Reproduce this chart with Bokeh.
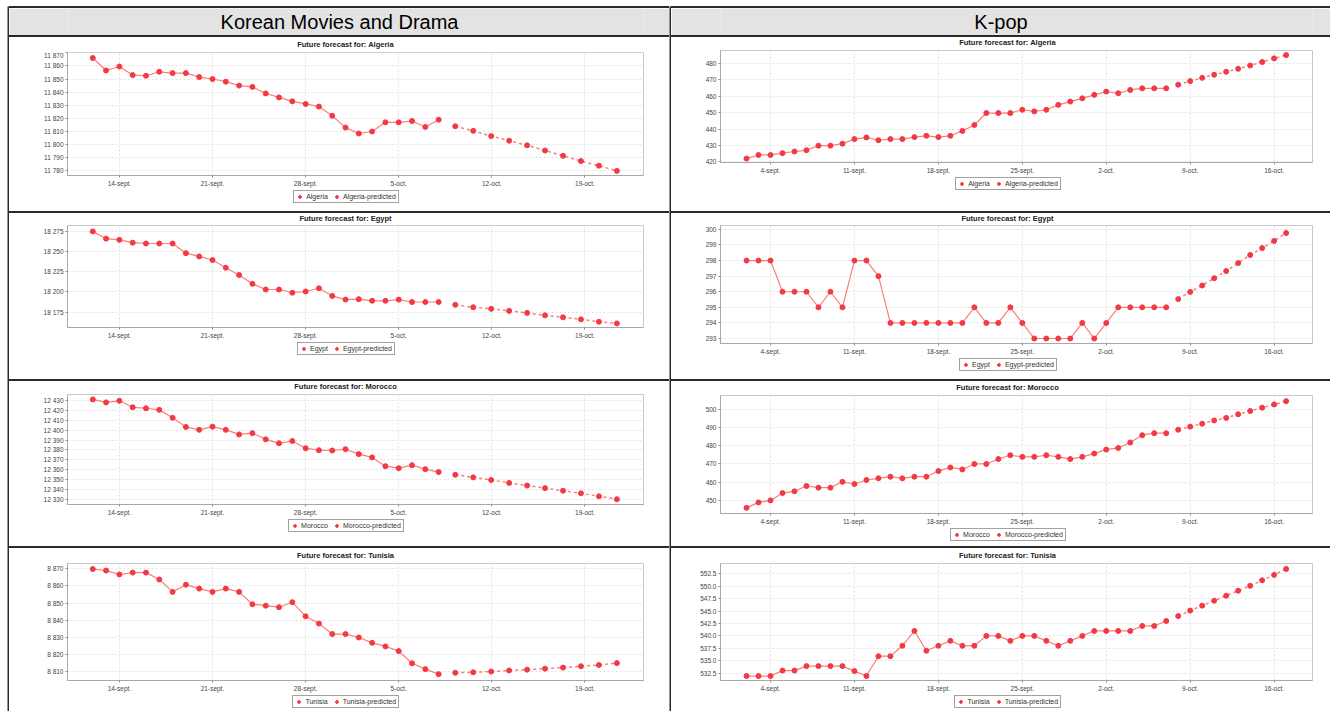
from bokeh.plotting import figure
from bokeh.layouts import row, column
from bokeh.models import FixedTicker, Legend, LegendItem, Range1d, Spacer
from bokeh.core.properties import value
from bokeh.core.validation import silence
from bokeh.core.validation.warnings import MISSING_RENDERERS
from bokeh.embed import file_html
from bokeh.resources import INLINE

silence(MISSING_RENDERERS, True)

# ---------------- data ----------------
col_headers = ["Korean Movies and Drama", "K-pop"]
countries = ["Algeria", "Egypt", "Morocco", "Tunisia"]

# day numbers counted from 1-sept (1-oct = 31)
kmd_days = list(range(12, 39))
kmd_pred_days = [39.25, 40.6, 41.95, 43.3, 44.65, 46.0, 47.35, 48.7, 50.05, 51.4]
kmd_xticks = [14, 21, 28, 35, 42, 49]
kmd_xlabels = ["14-sept.", "21-sept.", "28-sept.", "5-oct.", "12-oct.", "19-oct."]

kpop_days = list(range(2, 38))
kpop_pred_days = list(range(38, 48))
kpop_xticks = [4, 11, 18, 25, 32, 39, 46]
kpop_xlabels = ["4-sept.", "11-sept.", "18-sept.", "25-sept.", "2-oct.", "9-oct.", "16-oct."]

kmd_algeria = [11866, 11856.5, 11859.5, 11853, 11852.5, 11855.5, 11854.5, 11854.5, 11851.5,
               11850, 11848, 11845, 11844, 11839, 11836, 11833, 11831, 11829, 11822, 11813,
               11808.5, 11810, 11817, 11817, 11818, 11813.5, 11819]
kmd_algeria_pred = [11814, 11810.5, 11806.5, 11803, 11799.5, 11795.5, 11791.5, 11787.5, 11784, 11780]
kmd_algeria_ylabels = ["11 780", "11 790", "11 800", "11 810", "11 820", "11 830",
                       "11 840", "11 850", "11 860", "11 870"]

kmd_egypt = [18275, 18266, 18264.5, 18261, 18260, 18260, 18260, 18248, 18244, 18239.5,
             18230, 18221, 18210, 18203, 18203, 18199, 18200.5, 18204.5, 18195, 18190.5,
             18191, 18189, 18189, 18190.5, 18187.5, 18187.5, 18187.5]
kmd_egypt_pred = [18184, 18181, 18179, 18176.5, 18174, 18171, 18168.5, 18166, 18163, 18161]
kmd_egypt_ylabels = ["18 175", "18 200", "18 225", "18 250", "18 275"]

kmd_morocco = [12430.7, 12427.7, 12429.3, 12422.8, 12421.8, 12420.2, 12412.3, 12403.1, 12400.2,
               12403.4, 12400.2, 12395.6, 12396.9, 12390.7, 12386.7, 12389, 12381.8, 12379.8,
               12379.5, 12380.8, 12375.9, 12372.6, 12363.8, 12361.8, 12364.8, 12360.8, 12357.9]
kmd_morocco_pred = [12355.2, 12352.6, 12350, 12347, 12344.4, 12341.8, 12339.2, 12336.6, 12333.6, 12330.7]
kmd_morocco_ylabels = ["12 330", "12 340", "12 350", "12 360", "12 370", "12 380",
                       "12 390", "12 400", "12 410", "12 420", "12 430"]

kmd_tunisia = [8869.8, 8868.9, 8866.6, 8867.7, 8867.7, 8863.7, 8856.5, 8860.7, 8858.4, 8856.5,
               8858.4, 8856.5, 8849.3, 8848.5, 8847.6, 8850.5, 8842.3, 8838.1, 8832.0, 8832.0,
               8830.0, 8826.9, 8824.8, 8822.1, 8815.0, 8811.6, 8808.7]
kmd_tunisia_pred = [8809.5, 8809.8, 8810.2, 8810.8, 8811.3, 8811.9, 8812.5, 8813.3, 8814.0, 8815.1]
kmd_tunisia_ylabels = ["8 810", "8 820", "8 830", "8 840", "8 850", "8 860", "8 870"]

kpop_algeria = [422, 424.2, 424.2, 425.3, 426.3, 427.1, 429.9, 429.9, 431.1, 433.9, 434.9, 433.2,
                433.9, 433.9, 435.1, 435.9, 435.1, 435.9, 438.9, 442.5, 449.8, 449.8, 449.8, 451.8,
                450.8, 451.8, 454.8, 456.8, 458.8, 460.9, 462.9, 461.9, 463.9, 464.9, 464.9, 464.9]
kpop_algeria_pred = [467.1, 469.3, 471.3, 473.2, 475, 476.8, 478.8, 481, 483.2, 485.2]
kpop_algeria_ylabels = ["420", "430", "440", "450", "460", "470", "480"]

kpop_egypt = [298, 298, 298, 296, 296, 296, 295, 296, 295, 298, 298, 297, 294, 294, 294, 294,
              294, 294, 294, 295, 294, 294, 295, 294, 293, 293, 293, 293, 294, 293, 294, 295,
              295, 295, 295, 295]
kpop_egypt_pred = [295.53, 295.99, 296.4, 296.87, 297.33, 297.84, 298.36, 298.8, 299.26, 299.77]
kpop_egypt_ylabels = ["293", "294", "295", "296", "297", "298", "299", "300"]

kpop_morocco = [445.9, 448.9, 450, 454, 455, 457.9, 457, 457, 460.2, 459, 461.2, 462.1, 463,
                462.1, 463, 463, 466.1, 468.1, 467, 470, 470, 472.7, 474.8, 473.9, 473.9, 474.8,
                473.9, 472.7, 473.9, 475.7, 477.9, 478.8, 481.8, 485.8, 486.9, 486.9]
kpop_morocco_pred = [488.8, 490.5, 492.1, 493.9, 495.3, 497.3, 499.1, 500.9, 502.7, 504.5]
kpop_morocco_ylabels = ["450", "460", "470", "480", "490", "500"]

kpop_tunisia = [531.9, 531.9, 531.9, 533.0, 533.0, 533.9, 533.9, 533.9, 533.9, 532.9, 531.9,
                535.9, 535.9, 538.0, 541.0, 537.0, 538.0, 539.0, 538.0, 538.0, 540.0, 540.0,
                539.0, 540.0, 540.0, 539.0, 538.0, 539.0, 540.0, 541.0, 541.0, 541.0, 541.0,
                542.0, 542.0, 543.0]
kpop_tunisia_pred = [544.0, 545.1, 546.1, 547.1, 548.1, 549.1, 550.1, 551.2, 552.3, 553.5]
kpop_tunisia_ylabels = ["532.5", "535.0", "537.5", "540.0", "542.5", "545.0", "547.5", "550.0", "552.5"]

# ---------------- style / layout ----------------
DARK = "#2a2a2a"
HEADER_BG = "#e3e3e3"
LINE_C = "#ff7c7c"
MARK_C = "#f23a44"
FONT = "Liberation Sans"
AX_H = 12          # space for the x-axis under each plot area
TEXT_CX = 336      # title / legend centre inside a cell (px)
LEG_FS = 7.0
# Arial-like advance widths (per 1000 em) to size the legend box
CW = {"A": 667, "E": 667, "M": 833, "T": 611, "a": 556, "c": 500, "d": 556, "e": 556,
      "g": 556, "i": 222, "l": 222, "n": 556, "o": 556, "p": 556, "r": 333, "s": 500,
      "t": 278, "u": 556, "y": 500, "-": 333, " ": 278}


def text_w(s, fs):
    return sum(CW.get(ch, 556) for ch in s) * fs / 1000.0


def base_fig(w, h, bl=0, br=0, bt=0, bb=0, color="#ffffff", **kw):
    p = figure(width=w, height=h, output_backend="svg", toolbar_location=None, tools="",
               title=None, min_border_left=bl, min_border_right=br,
               min_border_top=bt, min_border_bottom=bb,
               x_axis_location=None, y_axis_location=None,
               background_fill_color=color, border_fill_color=color,
               outline_line_color=None, **kw)
    p.grid.visible = False
    return p


def vblock(w, h, color):
    return base_fig(w, h, 0, 0, 0, 0, color)


def hline(w):
    return Spacer(width=w, height=2, margin=0, styles={"background-color": DARK})


def header(text, w, h, bl, br):
    p = base_fig(w, h, bl, br, 0, 0, HEADER_BG,
                 x_range=Range1d(bl, w - br), y_range=Range1d(0, 1))
    p.text(x=[w / 2.0], y=[0.5], text=[text], text_align="center", text_baseline="middle",
           text_font=value(FONT), text_font_size="20px", text_color="#000000")
    return p


def num(s):
    v = float(s.replace(" ", ""))
    return int(v) if v == int(v) else v


def cell(country, days, vals, pdays, pvals, xticks, xlabels, ylabels, xr, yr,
         w, bl, br, cell_h, bt, fh):
    # --- title strip ---
    th = bt - 1
    tf = base_fig(w, th, bl, br, 0, 0, "#ffffff",
                  x_range=Range1d(bl, w - br), y_range=Range1d(th, 0))
    tf.text(x=[TEXT_CX], y=[bt - 8.5], text=["Future forecast for: " + country],
            text_align="center", text_baseline="middle", text_font=value(FONT),
            text_font_size="7.5px", text_font_style="bold", text_color="#222222")

    # --- plot ---
    p = figure(width=w, height=1 + fh + AX_H,
               min_border_left=bl, min_border_right=br, min_border_top=1, min_border_bottom=AX_H,
               x_range=Range1d(*xr), y_range=Range1d(*yr), title=None,
               output_backend="svg", toolbar_location=None, tools="",
               background_fill_color="#ffffff", border_fill_color="#ffffff",
               outline_line_color="#c8c8c8")
    yvals = [num(s) for s in ylabels]
    p.xaxis.ticker = FixedTicker(ticks=xticks)
    p.xaxis.major_label_overrides = dict(zip(xticks, xlabels))
    p.yaxis.ticker = FixedTicker(ticks=yvals)
    p.yaxis.major_label_overrides = dict(zip(yvals, ylabels))
    for ax in (p.xaxis, p.yaxis):
        ax.major_label_text_font = FONT
        ax.major_label_text_font_size = "6.5px"
        ax.major_label_text_color = "#444444"
        ax.axis_line_color = "#a8a8a8"
        ax.major_tick_line_color = "#909090"
        ax.major_tick_out = 2
        ax.major_tick_in = 0
        ax.minor_tick_line_color = None
        ax.major_label_standoff = 2
    p.grid.grid_line_color = "#e2e2e2"
    p.grid.grid_line_dash = "2 2"
    p.grid.grid_line_width = 1

    p.line(days, vals, line_color=LINE_C, line_width=1.2)
    p.scatter(days, vals, marker="circle", size=5, fill_color=MARK_C, line_color=MARK_C)
    p.line(pdays, pvals, line_color=LINE_C, line_width=1.5, line_dash="3 3")
    p.scatter(pdays, pvals, marker="circle", size=5, fill_color=MARK_C, line_color=MARK_C)

    # --- legend strip (key glyphs sit outside its visible range) ---
    lh = cell_h - bt - fh - AX_H
    lf = base_fig(w, lh, bl, br, 0, 0, "#ffffff",
                  x_range=Range1d(0, 1), y_range=Range1d(0, 1))
    g1 = lf.scatter([-5], [-5], marker="circle", size=5, fill_color=MARK_C, line_color=MARK_C)
    g2 = lf.scatter([-5], [-5], marker="circle", size=5, fill_color=MARK_C, line_color=MARK_C)
    lab1, lab2 = country, country + "-predicted"
    leg_w = 2 * 2 + 2 * (7 + 3) + 5 + text_w(lab1, LEG_FS) + text_w(lab2, LEG_FS)
    leg_h = 13
    vx = TEXT_CX - bl - leg_w / 2.0
    vy = lh - 1 - leg_h
    legend = Legend(items=[LegendItem(label=lab1, renderers=[g1]),
                           LegendItem(label=lab2, renderers=[g2])],
                    orientation="horizontal", location=(vx, vy),
                    label_text_font=FONT, label_text_font_size="%gpx" % LEG_FS,
                    label_text_color="#333333",
                    glyph_width=7, glyph_height=7, label_height=7, label_width=0,
                    label_standoff=3, spacing=5, padding=2, margin=0,
                    border_line_color="#444444", border_line_width=1,
                    background_fill_color="#ffffff", background_fill_alpha=1.0)
    lf.add_layout(legend)
    return [tf, p, lf]


KMD_XR = (10.1, 53.4)
KPOP_XR = (-0.17, 49.2)
W_L, W_R = 660, 659
L_BL, L_BR = 58, 26
R_BL, R_BR = 49, 18
row_heights = [174, 166, 165, 163]

left_cells = [
    cell("Algeria", kmd_days, kmd_algeria, kmd_pred_days, kmd_algeria_pred, kmd_xticks, kmd_xlabels,
         kmd_algeria_ylabels, KMD_XR, (11776.5, 11870.2), W_L, L_BL, L_BR, row_heights[0], 15, 125),
    cell("Egypt", kmd_days, kmd_egypt, kmd_pred_days, kmd_egypt_pred, kmd_xticks, kmd_xlabels,
         kmd_egypt_ylabels, KMD_XR, (18155.9, 18282.3), W_L, L_BL, L_BR, row_heights[1], 12, 104),
    cell("Morocco", kmd_days, kmd_morocco, kmd_pred_days, kmd_morocco_pred, kmd_xticks, kmd_xlabels,
         kmd_morocco_ylabels, KMD_XR, (12325.4, 12435.6), W_L, L_BL, L_BR, row_heights[2], 13, 112),
    cell("Tunisia", kmd_days, kmd_tunisia, kmd_pred_days, kmd_tunisia_pred, kmd_xticks, kmd_xlabels,
         kmd_tunisia_ylabels, KMD_XR, (8805.0, 8873.0), W_L, L_BL, L_BR, row_heights[3], 15, 119),
]
right_cells = [
    cell("Algeria", kpop_days, kpop_algeria, kpop_pred_days, kpop_algeria_pred, kpop_xticks, kpop_xlabels,
         kpop_algeria_ylabels, KPOP_XR, (419.6, 488.0), W_R, R_BL, R_BR, row_heights[0], 13, 114),
    cell("Egypt", kpop_days, kpop_egypt, kpop_pred_days, kpop_egypt_pred, kpop_xticks, kpop_xlabels,
         kpop_egypt_ylabels, KPOP_XR, (292.68, 300.25), W_R, R_BL, R_BR, row_heights[1], 12, 120),
    cell("Morocco", kpop_days, kpop_morocco, kpop_pred_days, kpop_morocco_pred, kpop_xticks, kpop_xlabels,
         kpop_morocco_ylabels, KPOP_XR, (442.8, 507.6), W_R, R_BL, R_BR, row_heights[2], 14, 120),
    cell("Tunisia", kpop_days, kpop_tunisia, kpop_pred_days, kpop_tunisia_pred, kpop_xticks, kpop_xlabels,
         kpop_tunisia_ylabels, KPOP_XR, (531.0, 554.6), W_R, R_BL, R_BR, row_heights[3], 15, 119),
]


def table_column(head, cells, w, bl, br):
    parts = [hline(w), header(head, w, 27, bl, br), hline(w)]
    for i, c in enumerate(cells):
        parts.extend(c)
        if i < len(cells) - 1:
            parts.append(hline(w))
    return column(*parts, spacing=0)


body_h = 711 - 6
page = column(
    Spacer(width=1330, height=6, margin=0),
    row(Spacer(width=7, height=body_h, margin=0), vblock(2, body_h, DARK),
        table_column(col_headers[0], left_cells, W_L, L_BL, L_BR),
        vblock(2, body_h, DARK),
        table_column(col_headers[1], right_cells, W_R, R_BL, R_BR),
        spacing=0),
    spacing=0)

open("out.html", "w").write(file_html(page, INLINE))
